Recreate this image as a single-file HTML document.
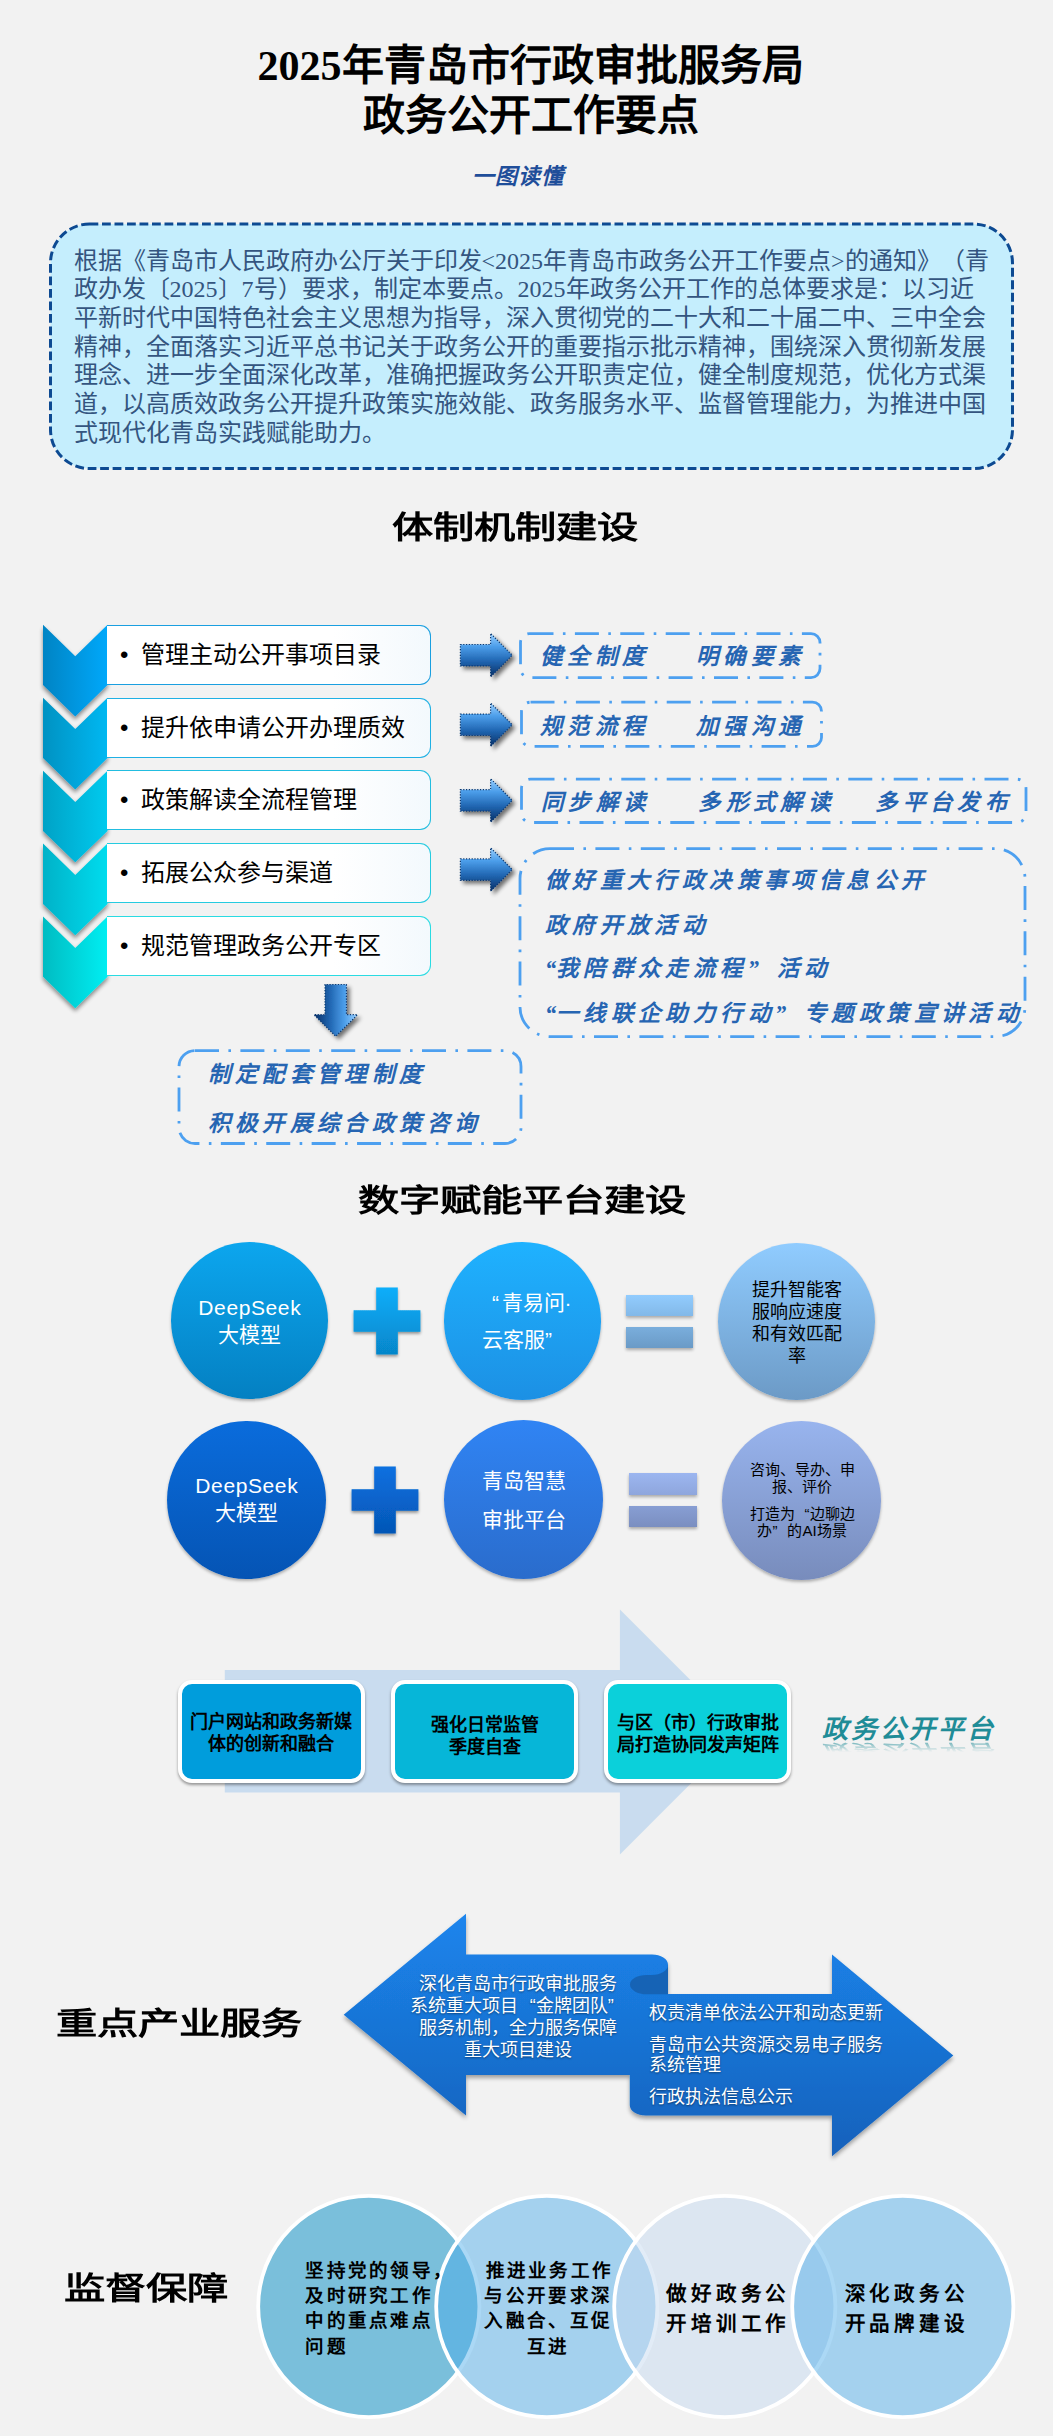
<!DOCTYPE html>
<html lang="zh-CN">
<head>
<meta charset="utf-8">
<title>2025年青岛市行政审批服务局政务公开工作要点</title>
<style>
html,body{margin:0;padding:0;}
body{width:1053px;height:2436px;background:#f2f2f2;position:relative;overflow:hidden;font-family:"Liberation Sans",sans-serif;color:#000;}
.abs{position:absolute;}
.sans{font-family:"Liberation Sans",sans-serif;}
.serif{font-family:"Liberation Serif",serif;}
#title{left:0;top:41px;width:1061px;text-align:center;font-family:"Liberation Serif",serif;font-weight:bold;font-size:42px;line-height:50.4px;white-space:nowrap;}
#sub{left:471.5px;top:161.5px;font-family:"Liberation Serif",serif;font-weight:bold;font-style:italic;font-size:22px;line-height:30px;letter-spacing:1px;color:#1f4e9a;white-space:nowrap;}
#intro{left:49px;top:222px;width:965px;height:246px;box-sizing:border-box;}
#introtxt{left:73.5px;top:246.5px;font-family:"Liberation Serif",serif;font-size:24px;line-height:28.7px;color:#34557f;white-space:nowrap;text-spacing-trim:space-all;}
.h2{font-family:"Liberation Serif",serif;font-weight:bold;font-size:41.3px;line-height:44px;white-space:nowrap;transform-origin:0 0;transform:scaleY(0.74);color:#000;}
/* chevron list */
.cbox{left:107px;width:324px;height:60px;box-sizing:border-box;border:1.5px solid #1a9fe0;border-left:none;border-radius:0 11px 11px 0;background:linear-gradient(90deg,#ffffff 0%,#ffffff 70%,#f3f9fd 100%);font-size:24px;line-height:57px;white-space:nowrap;}
.cbox i{font-style:normal;position:absolute;left:13px;top:0;}
.cbox b{font-weight:normal;position:absolute;left:34px;top:0;}

.circ{border-radius:50%;box-shadow:0 2px 3px rgba(0,0,0,.28);color:#fff;text-align:center;}
.ctext{width:100%;left:0;text-align:center;white-space:nowrap;}
.bar{box-shadow:0 2px 3px rgba(0,0,0,.3);}

.pbox{width:187px;height:103px;box-sizing:border-box;border:4.5px solid #fff;border-radius:14px;box-shadow:0 2px 3px rgba(0,0,0,.38);top:1680.3px;font-weight:bold;font-size:18px;line-height:22px;text-align:center;white-space:nowrap;color:#000;}
.pbox span{position:absolute;left:-10px;right:-10px;top:27.5px;}

.vk{font-family:"Liberation Serif",serif;font-weight:bold;font-size:18.5px;letter-spacing:2.3px;line-height:25.3px;white-space:nowrap;color:#000;}
.vk2{font-family:"Liberation Serif",serif;font-weight:bold;font-size:20.5px;letter-spacing:4.8px;line-height:29.9px;white-space:nowrap;color:#000;}
/* xingkai-like text */
.xk{font-family:"Liberation Serif",serif;font-weight:bold;font-style:italic;font-size:22.5px;letter-spacing:4.4px;color:#2665b2;white-space:pre;line-height:30px;margin-left:-2.5px;margin-top:1.6px;}
.xk .q1{display:inline-block;width:11px;letter-spacing:0;text-align:left;}
.xk .q2{display:inline-block;width:29px;letter-spacing:0;text-align:left;}
</style>
</head>
<body>

<!-- ===== Title ===== -->
<div id="title" class="abs">2025年青岛市行政审批服务局<br>政务公开工作要点</div>
<div id="sub" class="abs">一图读懂</div>

<!-- ===== Intro box ===== -->
<svg class="abs" style="left:40px;top:214px" width="985" height="264" viewBox="40 214 985 264">
  <rect x="50.5" y="224" width="962" height="244.6" rx="39" ry="39" fill="#c5eefd" stroke="#0d4a92" stroke-width="3" stroke-dasharray="8.8 3.7"/>
</svg>
<div id="introtxt" class="abs">根据《青岛市人民政府办公厅关于印发&lt;2025年青岛市政务公开工作要点&gt;的通知》（青<br>政办发〔2025〕7号）要求，制定本要点。2025年政务公开工作的总体要求是：以习近<br>平新时代中国特色社会主义思想为指导，深入贯彻党的二十大和二十届二中、三中全会<br>精神，全面落实习近平总书记关于政务公开的重要指示批示精神，围绕深入贯彻新发展<br>理念、进一步全面深化改革，准确把握政务公开职责定位，健全制度规范，优化方式渠<br>道，以高质效政务公开提升政策实施效能、政务服务水平、监督管理能力，为推进中国<br>式现代化青岛实践赋能助力。</div>

<!-- ===== Section 1 heading ===== -->
<div class="abs h2" style="left:391.5px;top:510.8px;">体制机制建设</div>

<!-- SECTION1 -->
<svg class="abs" style="left:0;top:600px" width="540" height="460" viewBox="0 600 540 460">
<defs>
<linearGradient id="cg0" x1="0" y1="0" x2="1" y2="0"><stop offset="0" stop-color="#0084c4"/><stop offset="1" stop-color="#02a8fa"/></linearGradient>
<linearGradient id="cg1" x1="0" y1="0" x2="1" y2="0"><stop offset="0" stop-color="#0092c2"/><stop offset="1" stop-color="#00b8f2"/></linearGradient>
<linearGradient id="cg2" x1="0" y1="0" x2="1" y2="0"><stop offset="0" stop-color="#00a2c6"/><stop offset="1" stop-color="#00caee"/></linearGradient>
<linearGradient id="cg3" x1="0" y1="0" x2="1" y2="0"><stop offset="0" stop-color="#00b2c8"/><stop offset="1" stop-color="#00dcee"/></linearGradient>
<linearGradient id="cg4" x1="0" y1="0" x2="1" y2="0"><stop offset="0" stop-color="#00bcc2"/><stop offset="1" stop-color="#00eef2"/></linearGradient>
<filter id="csh" x="-20%" y="-20%" width="140%" height="150%"><feGaussianBlur in="SourceAlpha" stdDeviation="2"/><feOffset dx="0" dy="3"/><feComponentTransfer><feFuncA type="linear" slope="0.45"/></feComponentTransfer><feMerge><feMergeNode/><feMergeNode in="SourceGraphic"/></feMerge></filter>
<linearGradient id="ag" x1="0" y1="0" x2="0" y2="1"><stop offset="0" stop-color="#9ad0ff"/><stop offset="0.3" stop-color="#4c9eea"/><stop offset="0.62" stop-color="#2268b4"/><stop offset="1" stop-color="#072f66"/></linearGradient>
<filter id="ash" x="-30%" y="-30%" width="170%" height="170%"><feGaussianBlur in="SourceAlpha" stdDeviation="2"/><feOffset dx="3" dy="3"/><feComponentTransfer><feFuncA type="linear" slope="0.55"/></feComponentTransfer><feMerge><feMergeNode/><feMergeNode in="SourceGraphic"/></feMerge></filter>
<path id="arw" d="M0,-10.7 H30.2 V-21.8 L51.8,0 L30.2,21.8 V10.7 H0 Z" fill="url(#ag)" stroke="#0b3870" stroke-width="1.2" stroke-dasharray="1.2 1.6"/>
</defs>
<polygon points="43,624.8 75.25,656.2 107.5,624.8 107.5,685.0 75.25,716.4 43,685.0" fill="url(#cg0)" filter="url(#csh)"/>
<polygon points="43,697.8 75.25,729.1 107.5,697.8 107.5,758.0 75.25,789.4 43,758.0" fill="url(#cg1)" filter="url(#csh)"/>
<polygon points="43,770.7 75.25,802.1 107.5,770.7 107.5,830.9 75.25,862.3 43,830.9" fill="url(#cg2)" filter="url(#csh)"/>
<polygon points="43,843.6 75.25,875.0 107.5,843.6 107.5,903.9 75.25,935.2 43,903.9" fill="url(#cg3)" filter="url(#csh)"/>
<polygon points="43,916.6 75.25,948.0 107.5,916.6 107.5,976.8 75.25,1008.2 43,976.8" fill="url(#cg4)" filter="url(#csh)"/>
<use href="#arw" transform="translate(460.4,655.2)" filter="url(#ash)"/>
<use href="#arw" transform="translate(460.4,724.8)" filter="url(#ash)"/>
<use href="#arw" transform="translate(460.4,800.4)" filter="url(#ash)"/>
<use href="#arw" transform="translate(460.4,869.6)" filter="url(#ash)"/>
<g filter="url(#ash)"><use href="#arw" transform="translate(335.75,984.5) rotate(90)"/></g>
</svg>
<div class="abs cbox" style="top:624.5px;border-color:#1a9fe0"><i>•</i><b>管理主动公开事项目录</b></div>
<div class="abs cbox" style="top:697.5px;border-color:#1fb0e4"><i>•</i><b>提升依申请公开办理质效</b></div>
<div class="abs cbox" style="top:770.4px;border-color:#22bde0"><i>•</i><b>政策解读全流程管理</b></div>
<div class="abs cbox" style="top:843.4px;border-color:#25cbe0"><i>•</i><b>拓展公众参与渠道</b></div>
<div class="abs cbox" style="top:916.3px;border-color:#2adbe2"><i>•</i><b>规范管理政务公开专区</b></div>
<svg class="abs" style="left:160px;top:620px" width="893" height="540" viewBox="160 620 893 540" fill="none" stroke="#4da0f0" stroke-width="2.8" stroke-dasharray="24 9.4 2.6 9.4">
<rect x="520.5" y="633.6" width="299.5" height="44.0" rx="9" ry="9"/>
<rect x="521.5" y="702.2" width="300" height="44.2" rx="9" ry="9"/>
<rect x="521.5" y="779.2" width="504.5" height="43.3" rx="9" ry="9"/>
<rect x="520" y="848.6" width="505.0" height="188.1" rx="30" ry="30"/>
<rect x="179" y="1050.6" width="342.0" height="92.9" rx="16" ry="16"/>
</svg>
<div class="abs xk" style="left:542.5px;top:640.6px">健全制度</div>
<div class="abs xk" style="left:698.5px;top:640.6px">明确要素</div>
<div class="abs xk" style="left:542.5px;top:710px">规范流程</div>
<div class="abs xk" style="left:698.5px;top:710px">加强沟通</div>
<div class="abs xk" style="left:543.5px;top:786.5px">同步解读</div>
<div class="abs xk" style="left:700.8px;top:786.5px">多形式解读</div>
<div class="abs xk" style="left:877.8px;top:786.5px">多平台发布</div>
<div class="abs xk" style="left:547.4px;top:864px">做好重大行政决策事项信息公开</div>
<div class="abs xk" style="left:547.4px;top:909px">政府开放活动</div>
<div class="abs xk" style="left:547.4px;top:952.5px"><span class="q1">“</span>我陪群众走流程<span class="q2">”</span>活动</div>
<div class="abs xk" style="left:547.4px;top:997.7px"><span class="q1">“</span>一线联企助力行动<span class="q2">”</span>专题政策宣讲活动</div>
<div class="abs xk" style="left:210px;top:1058.6px">制定配套管理制度</div>
<div class="abs xk" style="left:210px;top:1107.5px">积极开展综合政策咨询</div>
<!-- /SECTION1 -->

<!-- SECTION2 -->
<div class="abs h2" style="left:358px;top:1184.4px;">数字赋能平台建设</div>
<svg class="abs" width="0" height="0"><defs><filter id="csh2" x="-20%" y="-20%" width="140%" height="150%"><feGaussianBlur in="SourceAlpha" stdDeviation="1.6"/><feOffset dx="0" dy="2"/><feComponentTransfer><feFuncA type="linear" slope="0.4"/></feComponentTransfer><feMerge><feMergeNode/><feMergeNode in="SourceGraphic"/></feMerge></filter></defs></svg>
<div class="abs circ" style="left:170.8px;top:1242.0px;width:157.4px;height:157.4px;background:linear-gradient(180deg,#0ca6ee,#0480c2);"></div>
<svg class="abs" style="left:346.5px;top:1281.3px;overflow:visible" width="80" height="84" viewBox="-40 -40 80 84"><defs><linearGradient id="pg1321" x1="0" y1="0" x2="0" y2="1"><stop offset="0" stop-color="#0aaefa"/><stop offset="1" stop-color="#0686ca"/></linearGradient></defs><path d="M-10.8,-33.4 H10.8 V-10.8 H33.4 V10.8 H10.8 V33.4 H-10.8 V10.8 H-33.4 V-10.8 H-10.8 Z" fill="url(#pg1321)" filter="url(#csh2)"/></svg>
<div class="abs circ" style="left:444.0px;top:1242.3px;width:157.4px;height:157.4px;background:linear-gradient(180deg,#1fb2ff,#1c90e4);"></div>
<div class="abs bar" style="left:626.2px;top:1294.6px;width:67.0px;height:21.4px;background:linear-gradient(180deg,#92ccfe,#6a9ac6);background-size:100% 53.6px;background-position:0 0;"></div><div class="abs bar" style="left:626.2px;top:1326.8px;width:67.0px;height:21.4px;background:linear-gradient(180deg,#92ccfe,#6a9ac6);background-size:100% 53.6px;background-position:0 -32.2px;"></div>
<div class="abs circ" style="left:718.2px;top:1243.3px;width:156.8px;height:156.8px;background:linear-gradient(180deg,#90ccff,#6c9ac6);"></div>
<div class="abs circ" style="left:167.2px;top:1420.5px;width:158.4px;height:158.4px;background:linear-gradient(180deg,#0a6cdc,#0554b4);"></div>
<svg class="abs" style="left:345.0px;top:1459.7px;overflow:visible" width="80" height="84" viewBox="-40 -40 80 84"><defs><linearGradient id="pg1499" x1="0" y1="0" x2="0" y2="1"><stop offset="0" stop-color="#0a70e0"/><stop offset="1" stop-color="#0556b6"/></linearGradient></defs><path d="M-10.8,-33.4 H10.8 V-10.8 H33.4 V10.8 H10.8 V33.4 H-10.8 V10.8 H-33.4 V-10.8 H-10.8 Z" fill="url(#pg1499)" filter="url(#csh2)"/></svg>
<div class="abs circ" style="left:444.2px;top:1420.2px;width:159.0px;height:159.0px;background:linear-gradient(180deg,#3084f4,#2a6ccc);"></div>
<div class="abs bar" style="left:629px;top:1473.2px;width:67.9px;height:21.4px;background:linear-gradient(180deg,#9cb6f0,#7a8ec0);background-size:100% 54.2px;background-position:0 0;"></div><div class="abs bar" style="left:629px;top:1505.7px;width:67.9px;height:21.7px;background:linear-gradient(180deg,#9cb6f0,#7a8ec0);background-size:100% 54.2px;background-position:0 -32.5px;"></div>
<div class="abs circ" style="left:721.9px;top:1420.5px;width:159.6px;height:159.6px;background:linear-gradient(180deg,#98b4ee,#788cbc);"></div>
<div class="abs" style="left:170px;top:1295px;width:159px;text-align:center;color:#fff;font-size:21px;line-height:26.5px;white-space:nowrap"><span style="letter-spacing:.6px;margin-right:-.6px">DeepSeek</span><br>大模型</div>
<div class="abs" style="left:492px;top:1284px;color:#fff;font-size:21px;line-height:37px;white-space:nowrap"><span style="display:inline-block;width:9.5px;text-align:left">“</span>青易问·</div>
<div class="abs" style="left:482px;top:1321px;color:#fff;font-size:21px;line-height:37px;white-space:nowrap">云客服”</div>
<div class="abs" style="left:718px;top:1279.8px;width:157px;text-align:center;color:#000;font-size:18px;line-height:21.9px;white-space:nowrap">提升智能客<br>服响应速度<br>和有效匹配<br>率</div>
<div class="abs" style="left:167px;top:1472.8px;width:159px;text-align:center;color:#fff;font-size:21px;line-height:26.7px;white-space:nowrap"><span style="letter-spacing:.6px;margin-right:-.6px">DeepSeek</span><br>大模型</div>
<div class="abs" style="left:444px;top:1462px;width:159px;text-align:center;color:#fff;font-size:21px;line-height:38.7px;white-space:nowrap">青岛智慧<br>审批平台</div>
<div class="abs" style="left:722px;top:1460.5px;width:160px;text-align:center;color:#000;font-size:15px;line-height:17.8px;white-space:nowrap">咨询、导办、申<br>报、评价</div>
<div class="abs" style="left:722px;top:1504.5px;width:160px;text-align:center;color:#000;font-size:15px;line-height:17.8px;white-space:nowrap">打造为<span style="display:inline-block;width:15px;text-align:right">“</span>边聊边<br>办<span style="display:inline-block;width:15px;text-align:left">”</span>的AI场景</div>
<!-- /SECTION2 -->

<!-- SECTION3 -->
<svg class="abs" style="left:220px;top:1605px" width="530" height="255" viewBox="220 1605 530 255"><path d="M224.8,1670 H619.9 V1609.4 L742.4,1731.9 L619.9,1854.5 V1792.6 H224.8 Z" fill="#c9dcef"/></svg>
<div class="abs pbox" style="left:177.5px;background:#009ddc"><span style="top:26.7px">门户网站和政务新媒<br>体的创新和融合</span></div>
<div class="abs pbox" style="left:391px;background:#06b6d8"><span style="top:29.5px">强化日常监管<br>季度自查</span></div>
<div class="abs pbox" style="left:604.3px;background:#0bd0da"><span>与区（市）行政审批<br>局打造协同发声矩阵</span></div>
<div class="abs" id="zw" style="left:822px;top:1712.6px;font-family:'Liberation Serif',serif;font-weight:bold;font-style:italic;font-size:26px;line-height:34px;letter-spacing:3px;white-space:nowrap;color:#1f8c97;">政务公开平台</div>
<div class="abs" id="zw2" style="left:822px;top:1712.6px;font-family:'Liberation Serif',serif;font-weight:bold;font-style:italic;font-size:26px;line-height:34px;letter-spacing:3px;white-space:nowrap;color:#1f8c97;transform:scaleY(-0.5);transform-origin:0 29px;filter:blur(.7px);-webkit-mask-image:linear-gradient(to top,rgba(0,0,0,.6) 5px,rgba(0,0,0,0) 25px);mask-image:linear-gradient(to top,rgba(0,0,0,.6) 5px,rgba(0,0,0,0) 25px);">政务公开平台</div>
<!-- /SECTION3 -->

<!-- SECTION4 -->
<div class="abs h2" style="left:55.5px;top:2007.4px;">重点产业服务</div>
<svg class="abs" style="left:330px;top:1900px" width="640" height="270" viewBox="330 1900 640 270">
<defs>
<linearGradient id="rg" gradientUnits="userSpaceOnUse" x1="0" y1="1913" x2="0" y2="2157"><stop offset="0" stop-color="#1b85ed"/><stop offset="1" stop-color="#1661bb"/></linearGradient>
<filter id="rsh" x="-5%" y="-5%" width="110%" height="115%"><feGaussianBlur in="SourceAlpha" stdDeviation="2"/><feOffset dx="0" dy="2.5"/><feComponentTransfer><feFuncA type="linear" slope="0.35"/></feComponentTransfer><feMerge><feMergeNode/><feMergeNode in="SourceGraphic"/></feMerge></filter>
</defs>
<g filter="url(#rsh)">
<path d="M343.7,2014.7 L466,1913.8 V1954.6 H652 A16,10.2 0 0 1 668,1964.8 V1994 H832 V1954.6 L953.3,2055.5 L832,2156.3 V2115.4 H645.8 A16,10.2 0 0 1 629.8,2105.2 V2075 H466 V2115.5 Z" fill="url(#rg)"/>
<path d="M668,1964.8 A16,10.2 0 0 1 652,1975 H646.6 A16.6,9.6 0 0 0 646.6,1994.2 H668 Z" fill="#1763b5"/>
</g>
</svg>
<div class="abs" style="left:407.7px;top:1973.2px;width:220px;text-align:center;color:#fff;font-size:18px;line-height:22.1px;white-space:nowrap;text-shadow:0 1px 2px rgba(0,0,0,.45)">深化青岛市行政审批服务<br>系统重大项目<span style="display:inline-block;width:18px;text-align:right">“</span>金牌团队<span style="display:inline-block;width:18px;text-align:left">”</span><br>服务机制，全力服务保障<br>重大项目建设</div>
<div class="abs" style="left:649px;top:2002.7px;color:#fff;font-size:18px;line-height:20.4px;white-space:nowrap;text-shadow:0 1px 2px rgba(0,0,0,.45)">权责清单依法公开和动态更新<div style="height:11.6px"></div>青岛市公共资源交易电子服务<br>系统管理<div style="height:11.8px"></div>行政执法信息公示</div>
<!-- /SECTION4 -->

<!-- SECTION5 -->
<div class="abs h2" style="left:64px;top:2271.8px;">监督保障</div>
<svg class="abs" style="left:250px;top:2188px" width="780" height="240" viewBox="250 2188 780 240"><circle cx="368.8" cy="2306.5" r="110.6" fill="#7abfdb" fill-opacity="1" stroke="#fff" stroke-width="3.8"/><circle cx="546.8" cy="2306.5" r="110.6" fill="#48aae9" fill-opacity="0.46" stroke="#fff" stroke-width="3.8"/><circle cx="724.8" cy="2306.5" r="110.6" fill="#c6daf0" fill-opacity="0.5" stroke="#fff" stroke-width="3.8"/><circle cx="902.8" cy="2306.5" r="110.6" fill="#48aae9" fill-opacity="0.46" stroke="#fff" stroke-width="3.8"/></svg>
<div class="abs vk" style="left:305.3px;top:2258.8px;">坚持党的领导，<br>及时研究工作<br>中的重点难点<br>问题</div>
<div class="abs vk" style="left:448.3px;top:2258.8px;width:200px;text-align:center;text-indent:2.3px">推进业务工作<br>与公开要求深<br>入融合、互促<br>互进</div>
<div class="abs vk2" style="left:666.2px;top:2280px;">做好政务公<br>开培训工作</div>
<div class="abs vk2" style="left:844.6px;top:2280px;">深化政务公<br>开品牌建设</div>
<!-- /SECTION5 -->

</body>
</html>
